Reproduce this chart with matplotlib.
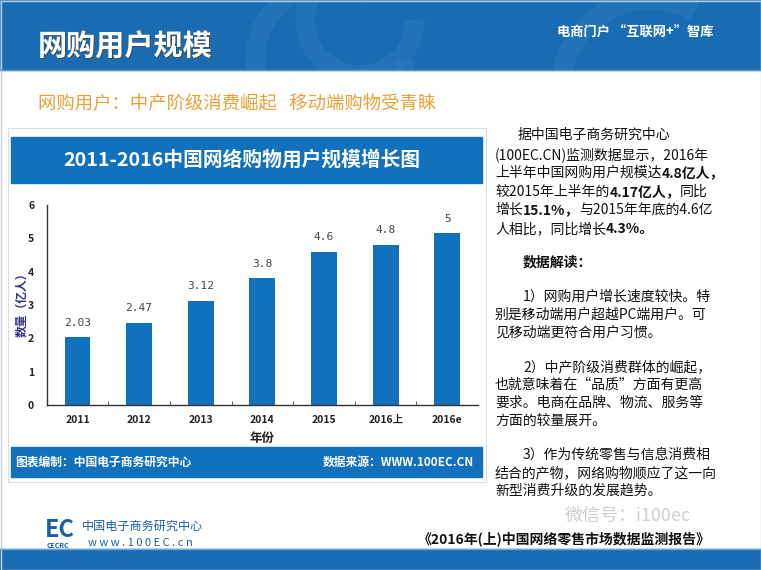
import matplotlib
matplotlib.use("Agg")
import matplotlib.pyplot as plt
from matplotlib.patches import Rectangle, Arc

plt.rcParams['font.family'] = ['Noto Sans CJK SC', 'DejaVu Sans']

# chart data
years = ['2011', '2012', '2013', '2014', '2015', '2016上', '2016e']
users = [2.03, 2.47, 3.12, 3.8, 4.6, 4.8, 5.15]
value_labels = ['2.03', '2.47', '3.12', '3.8', '4.6', '4.8', '5']
y_ticks = [0, 1, 2, 3, 4, 5, 6]

# right hand commentary, (x, y, [(text, bold), ...])
notes = [
    (518, 135, [('据中国电子商务研究中心', False)]),
    (495, 155, [('(100EC.CN)监测数据显示，2016年', False)]),
    (495, 173, [('上半年中国网购用户规模达', False), ('4.8亿人，', True)]),
    (495, 192, [('较2015年上半年的', False), ('4.17亿人，', True), ('同比', False)]),
    (495, 210, [('增长', False), ('15.1%，', True), ('与2015年年底的4.6亿', False)]),
    (495, 229, [('人相比，同比增长', False), ('4.3%。', True)]),
    (523, 262, [('数据解读：', True)]),
    (523, 297, [('1）网购用户增长速度较快。特', False)]),
    (495, 315, [('别是移动端用户超越PC端用户。可', False)]),
    (495, 333, [('见移动端更符合用户习惯。', False)]),
    (523, 367, [('2）中产阶级消费群体的崛起，', False)]),
    (495, 385, [('也就意味着在“品质”方面有更高', False)]),
    (495, 403, [('要求。电商在品牌、物流、服务等', False)]),
    (495, 421, [('方面的较量展开。', False)]),
    (523, 455, [('3）作为传统零售与信息消费相', False)]),
    (495, 473, [('结合的产物，网络购物顺应了这一向', False)]),
    (495, 491, [('新型消费升级的发展趋势。', False)]),
]

W, H = 761, 570
blue = '#1a6cb2'
bar_blue = '#1271bc'

fig = plt.figure(figsize=(W / 100, H / 100), dpi=100)
fig.patch.set_facecolor('white')

# background layer in pixel coordinates
bg = fig.add_axes([0, 0, 1, 1])
bg.set_xlim(0, W)
bg.set_ylim(H, 0)
bg.axis('off')

# header band with faint swirl
header = Rectangle((0, 0), W, 70, color=blue, zorder=1)
bg.add_patch(header)
for cx, cy, r in [(330, 60, 150), (360, 20, 110), (650, 90, 180)]:
    a = Arc((cx, cy), r, r, theta1=0, theta2=300, color='#3b84c4',
            lw=14, alpha=0.25, zorder=1)
    bg.add_patch(a)
    a.set_clip_path(header)
bg.add_patch(Rectangle((0, 0), W, 70, fill=False, ec='#5e9bd1', lw=1, zorder=2))
bg.text(39, 47, '网购用户规模', color='#4a4a4a', fontsize=21, fontweight='bold',
        va='center', ha='left', zorder=2)
bg.text(38, 46, '网购用户规模', color='white', fontsize=21, fontweight='bold',
        va='center', ha='left', zorder=3)
bg.text(557, 33, '电商门户 “互联网+”智库', color='white', fontsize=9.5,
        fontweight='bold', va='center', ha='left', zorder=3)

# subtitle
bg.text(38, 104, '网购用户：中产阶级消费崛起   移动端购物受青睐', color='#e8a136',
        fontsize=13.2, va='center', ha='left')

# chart panel frame and bands
bg.add_patch(Rectangle((8, 128), 478, 354, fill=False, ec='#dddddd', lw=0.8))
bg.add_patch(Rectangle((11, 137), 471, 46, color=bar_blue, zorder=1))
bg.text(242, 160, '2011-2016中国网络购物用户规模增长图', color='white', fontsize=14.2,
        fontweight='bold', va='center', ha='center', zorder=2)
bg.add_patch(Rectangle((11, 447), 471, 30, color=bar_blue, zorder=1))
bg.text(15, 462, '图表编制：中国电子商务研究中心', color='white', fontsize=8.5,
        fontweight='bold', va='center', ha='left', zorder=2)
bg.text(474, 462, '数据来源：WWW.100EC.CN', color='white', fontsize=8.5,
        fontweight='bold', va='center', ha='right', zorder=2)
bg.text(262, 438, '年份', color='#222222', fontsize=9, fontweight='bold',
        va='center', ha='center')
bg.text(22, 302, '数量（亿人）', color='#2e318f', fontsize=8.5, fontweight='bold',
        va='center', ha='center', rotation=90)

# commentary text, bold parts chained after the normal ones
for x, y, segs in notes:
    prev = None
    for s, b in segs:
        fw = 'bold' if b else 'normal'
        if prev is None:
            prev = bg.text(x, y, s, fontsize=10, fontweight=fw, color='#111111',
                           va='center', ha='left')
        else:
            prev = bg.annotate(s, xy=(1, 0), xycoords=prev, fontsize=10,
                               fontweight=fw, color='#111111', va='bottom', ha='left')

# footer
bg.text(45, 530, 'EC', color='#1b5fa8', fontsize=17, fontweight='bold',
        va='center', ha='left')
bg.text(47, 546, 'CECRC', color='#1b5fa8', fontsize=5, fontweight='bold',
        va='center', ha='left')
bg.text(82, 526, '中国电子商务研究中心', color='#1b5fa8', fontsize=8.7,
        va='center', ha='left')
bg.text(88, 543, 'w w w . 1 0 0 E C . c n', color='#1b5fa8', fontsize=8,
        va='center', ha='left')
bg.text(565, 516, '微信号：i100ec', color='#c4c4c4', fontsize=13, alpha=0.8,
        va='center', ha='left')
bg.text(418, 539, '《2016年(上)中国网络零售市场数据监测报告》', color='#111111',
        fontsize=10, fontweight='bold', va='center', ha='left')
bg.add_patch(Rectangle((0, 549), W, 21, color=blue, zorder=1))
bg.plot([0, W], [548.5, 548.5], color='#6aa7dc', lw=1)
bg.add_patch(Rectangle((0.5, 0.5), W - 1, H - 1, fill=False, ec='#c8d3df', lw=1))

# bar chart
ax = fig.add_axes([46.7 / W, (H - 405) / H, (478 - 46.7) / W, 200 / H])
ax.set_facecolor('none')
xs = range(len(years))
ax.bar(xs, users, width=0.42, color=bar_blue, zorder=2)
for x, v, lab in zip(xs, users, value_labels):
    ax.annotate(lab, xy=(x, v), xytext=(0, 7), textcoords='offset points',
                ha='center', va='bottom', fontsize=8, color='#444444',
                family='DejaVu Sans Mono')
ax.set_xlim(-0.5, len(years) - 0.5)
ax.set_ylim(0, 6)
ax.set_yticks(y_ticks)
ax.set_xticks(list(xs))
ax.set_xticklabels(years)
ax.set_xticks([i + 0.5 for i in range(len(years) - 1)], minor=True)
ax.tick_params(axis='x', which='major', length=0, pad=7, labelsize=7.5)
ax.tick_params(axis='x', which='minor', length=3, direction='in', color='#444444')
ax.tick_params(axis='y', length=0, pad=9, labelsize=7.5)
for lab in ax.get_xticklabels() + ax.get_yticklabels():
    lab.set_fontweight('bold')
    lab.set_color('#222222')
for side in ['top', 'right']:
    ax.spines[side].set_visible(False)
for side in ['left', 'bottom']:
    ax.spines[side].set_color('#333333')
    ax.spines[side].set_linewidth(1)

fig.savefig('out.png', dpi=100)
